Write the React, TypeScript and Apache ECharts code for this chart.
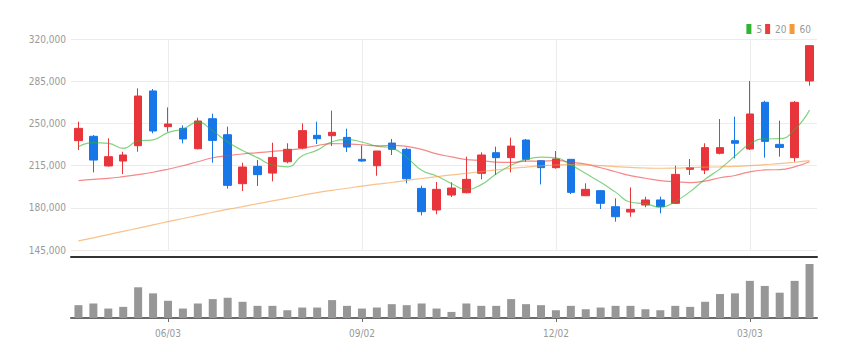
import React, { useEffect, useRef } from "react";
import * as echarts from "echarts";

const dates = [
  "2024-04-22", "2024-04-29", "2024-05-06", "2024-05-13", "2024-05-20", "2024-05-27",
  "2024-06-03", "2024-06-10", "2024-06-17", "2024-06-24", "2024-07-01", "2024-07-08",
  "2024-07-15", "2024-07-22", "2024-07-29", "2024-08-05", "2024-08-12", "2024-08-19",
  "2024-08-26", "2024-09-02", "2024-09-09", "2024-09-16", "2024-09-23", "2024-09-30",
  "2024-10-07", "2024-10-14", "2024-10-21", "2024-10-28", "2024-11-04", "2024-11-11",
  "2024-11-18", "2024-11-25", "2024-12-02", "2024-12-09", "2024-12-16", "2024-12-23",
  "2024-12-30", "2025-01-06", "2025-01-13", "2025-01-20", "2025-01-27", "2025-02-03",
  "2025-02-10", "2025-02-17", "2025-02-24", "2025-03-03", "2025-03-10", "2025-03-17",
  "2025-03-24", "2025-03-31",
];

// [open, close, low, high]
const candles = [
  [235700, 245900, 227900, 251400],
  [239300, 219600, 209400, 240400],
  [214700, 222400, 214100, 237600],
  [218800, 223800, 208000, 226500],
  [231500, 272700, 226500, 279100],
  [276900, 243700, 241800, 278500],
  [247300, 249500, 243100, 263300],
  [245900, 237100, 233500, 248400],
  [229000, 252000, 228500, 254700],
  [253900, 235900, 217400, 258100],
  [240600, 198600, 195900, 247300],
  [200000, 213800, 193900, 217400],
  [214400, 207500, 198100, 219600],
  [208800, 221800, 201900, 234000],
  [218200, 228500, 216900, 233500],
  [229600, 244000, 228500, 250000],
  [240100, 237300, 232900, 251400],
  [239800, 242600, 231200, 260600],
  [238400, 230400, 226300, 245600],
  [220200, 218800, 218200, 231800],
  [214900, 227100, 206600, 227100],
  [233700, 228500, 223800, 237100],
  [228500, 204100, 200300, 229900],
  [196100, 176800, 173700, 198300],
  [178200, 195300, 174600, 201400],
  [190600, 196400, 188900, 201100],
  [192500, 203600, 192000, 222400],
  [208600, 223800, 203600, 226000],
  [225700, 221600, 207200, 230700],
  [221600, 231200, 209400, 238200],
  [236200, 220200, 218200, 237100],
  [219100, 213300, 199400, 219600],
  [213300, 220500, 212400, 227100],
  [220200, 192800, 191400, 220200],
  [190000, 195300, 189800, 200300],
  [194200, 183700, 179000, 194700],
  [180900, 172600, 168500, 187800],
  [176500, 178700, 172600, 196900],
  [182300, 186500, 180400, 189200],
  [186500, 180900, 175400, 189200],
  [183700, 207700, 183100, 214900],
  [211900, 213300, 207200, 220500],
  [211300, 229900, 208000, 233500],
  [225200, 229900, 224300, 253600],
  [235700, 233500, 221000, 255600],
  [228800, 257800, 227900, 285200],
  [267500, 235100, 221600, 268800],
  [232600, 230100, 222400, 252300],
  [221600, 267500, 218200, 268600],
  [285200, 314500, 281300, 314500],
];

const ma5 = [
  230700, 234000, 233500, 229300, 235500, 236400, 242400, 245400, 251000, 243600,
  234600, 227500, 221600, 215500, 214000, 223100, 227800, 234800, 236600, 234600,
  231200, 229500, 221800, 211100, 206400, 200200, 195200, 199200, 208100, 215300,
  220100, 222000, 221400, 215600, 208400, 201100, 193000, 184600, 183400, 180500,
  185300, 193400, 203700, 212300, 222900, 232900, 237200, 237300, 244800, 261000,
];

const ma20 = [
  202500, 203600, 204400, 205800, 207500, 209500, 212000, 214900, 218200, 221500,
  223200, 224600, 225700, 226800, 227900, 229300, 231600, 233300, 232900, 232300,
  231400, 231800, 230900, 228500, 224700, 222300, 220000, 219300, 217800, 217600,
  218700, 218600, 219300, 217800, 216200, 213200, 209900, 206700, 204500, 202600,
  201700, 200900, 202200, 204900, 206800, 209800, 211400, 211700, 214000, 218200,
];

const ma60 = [
  152500, 155100, 157800, 160500, 163100, 165800, 168500, 171100, 173700, 176300,
  178700, 181000, 183400, 185700, 188000, 190300, 192600, 194500, 196200, 198000,
  199600, 201000, 202700, 204300, 205800, 207300, 208600, 210000, 211400, 212700,
  213800, 214800, 215500, 215800, 215600, 215000, 214200, 213500, 213000, 212800,
  212900, 213300, 213700, 214000, 214400, 215000, 215800, 216600, 217800, 219200,
];

const volumes = [
  38000, 43000, 28000, 33000, 91000, 73000, 51000, 28000, 43000, 56000,
  60000, 48000, 36000, 36000, 23000, 31000, 31000, 53000, 36000, 28000,
  31000, 41000, 38000, 43000, 28000, 18000, 43000, 36000, 36000, 56000,
  41000, 38000, 23000, 36000, 26000, 31000, 36000, 36000, 26000, 23000,
  36000, 33000, 48000, 71000, 73000, 110000, 95000, 75000, 110000, 160000,
];

const labelDates = ["2024-06-03", "2024-09-02", "2024-12-02", "2025-03-03"];

const FONT = "'DejaVu Sans Condensed', 'Liberation Sans Narrow', 'Liberation Sans', sans-serif";
const UP = "#e8343b";
const DOWN = "#1776e8";

export default function App() {
  const ref = useRef<HTMLDivElement>(null);
  useEffect(() => {
    if (!ref.current) return;
    const chart = echarts.init(ref.current, undefined, { renderer: "svg" });
    const isLabel = (idx: number) => labelDates.indexOf(dates[idx]) >= 0;
    const fmtDate = (v: string) => v.slice(5, 7) + "/" + v.slice(8, 10);
    const maLine = (name: string, data: number[], color: string) => ({
      name,
      type: "line",
      data,
      xAxisIndex: 0,
      yAxisIndex: 0,
      symbol: "none",
      smooth: true,
      itemStyle: { color },
      lineStyle: { color, width: 1.2, opacity: 0.6 },
      z: 3,
    });
    chart.setOption({
      animation: false,
      backgroundColor: "#ffffff",
      legend: {
        data: ["5", "20", "60"],
        right: 44,
        top: 19,
        icon: "rect",
        itemWidth: 5,
        itemHeight: 10,
        itemGap: 3,
        textStyle: { color: "#999", fontSize: 10, fontFamily: FONT },
      },
      grid: [
        { left: 71, right: 43, top: 39, height: 211 },
        { left: 71, right: 43, top: 264, height: 54 },
      ],
      xAxis: [
        {
          type: "category",
          data: dates,
          gridIndex: 0,
          offset: 7,
          axisLine: { lineStyle: { color: "#333", width: 2 } },
          axisTick: { show: false },
          axisLabel: { show: false },
          splitLine: { show: false },
        },
        {
          type: "category",
          data: dates,
          gridIndex: 1,
          axisLine: { lineStyle: { color: "#6a6a6a", width: 2 } },
          axisTick: {
            show: true,
            alignWithLabel: true,
            interval: (idx: number) => isLabel(idx),
            length: 4,
            lineStyle: { color: "#6a6a6a" },
          },
          axisLabel: {
            interval: (idx: number) => isLabel(idx),
            formatter: fmtDate,
            color: "#999",
            fontSize: 10,
            fontFamily: FONT,
            margin: 10,
          },
          splitLine: { show: false },
        },
      ],
      yAxis: [
        {
          type: "value",
          gridIndex: 0,
          min: 145000,
          max: 320000,
          interval: 35000,
          axisLine: { show: false },
          axisTick: { show: false },
          axisLabel: {
            color: "#999",
            fontSize: 10,
            fontFamily: FONT,
            margin: 5,
            formatter: (v: number) => v.toLocaleString("en-US"),
          },
          splitLine: { lineStyle: { color: "#ececec" } },
        },
        {
          type: "value",
          gridIndex: 1,
          min: 0,
          max: "dataMax",
          show: false,
          splitLine: { show: false },
        },
      ],
      series: [
        {
          name: "price",
          type: "candlestick",
          data: candles,
          xAxisIndex: 0,
          yAxisIndex: 0,
          barWidth: 8,
          itemStyle: {
            color: UP,
            color0: DOWN,
            borderColor: UP,
            borderColor0: DOWN,
            borderWidth: 1,
          },
          markLine: {
            silent: true,
            symbol: "none",
            label: { show: false },
            lineStyle: { color: "#ececec", type: "solid", width: 1 },
            data: labelDates.map((d) => ({ xAxis: d })),
            z: 1,
          },
          z: 2,
        },
        maLine("5", ma5, "#2fb52f"),
        maLine("20", ma20, "#ee3b3b"),
        maLine("60", ma60, "#f39a3c"),
        {
          name: "volume",
          type: "bar",
          data: volumes,
          xAxisIndex: 1,
          yAxisIndex: 1,
          barWidth: 8,
          itemStyle: { color: "#979797" },
        },
      ],
    });
    return () => chart.dispose();
  }, []);
  return (
    <div
      ref={ref}
      style={{ position: "fixed", left: 0, top: 0, width: 860, height: 357 }}
    />
  );
}
